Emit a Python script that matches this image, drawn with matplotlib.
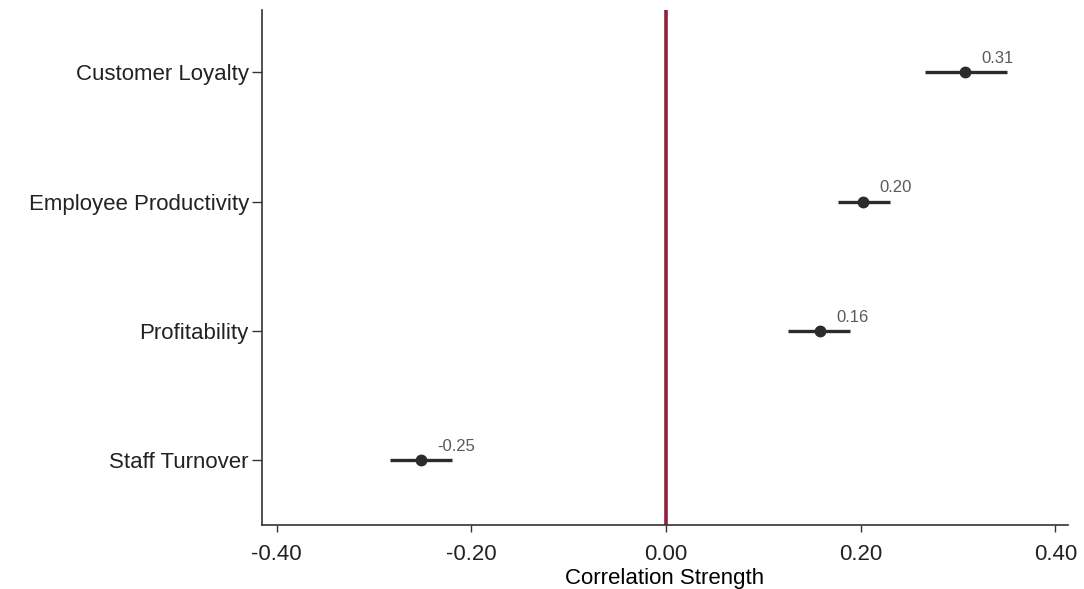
import matplotlib
matplotlib.use("Agg")
import matplotlib.pyplot as plt

plt.rcParams['font.family'] = ['Liberation Sans', 'DejaVu Sans']

categories = ["Customer Loyalty", "Employee Productivity", "Profitability", "Staff Turnover"]
estimates = [0.307, 0.202, 0.158, -0.252]
ci_low = [0.266, 0.177, 0.125, -0.284]
ci_high = [0.350, 0.230, 0.189, -0.220]
value_labels = ["0.31", "0.20", "0.16", "-0.25"]
xticks = [-0.40, -0.20, 0.00, 0.20, 0.40]

fig = plt.figure(figsize=(10.84, 5.89), dpi=100)
ax = fig.add_axes([0.2417, 0.1087, 0.7435, 0.8743])

n = len(categories)
ypos = [n - 1 - i for i in range(n)]

ax.axvline(0, color='#931F3A', lw=2.6, zorder=1)

for y, est, lo, hi, lab in zip(ypos, estimates, ci_low, ci_high, value_labels):
    ax.plot([lo, hi], [y, y], color='#2b2b2b', lw=2.4, solid_capstyle='butt', zorder=2)
    ax.plot([est], [y], 'o', color='#2b2b2b', ms=7.5, zorder=3)
    ax.annotate(lab, (est, y), xytext=(12, 4.5), textcoords='offset points',
                fontsize=12, color='#5a5a5a', ha='left', va='bottom')

ax.set_xlim(-0.415, 0.413)
ax.set_ylim(-0.5, 3.48)
ax.set_xticks(xticks)
ax.set_xticklabels([f"{t:.2f}" for t in xticks], fontsize=16)
ax.set_yticks(ypos)
ax.set_yticklabels(categories, fontsize=16)
ax.set_xlabel("Correlation Strength", fontsize=16, labelpad=2)

for s in ['top', 'right']:
    ax.spines[s].set_visible(False)
for s in ['left', 'bottom']:
    ax.spines[s].set_color('#333333')
    ax.spines[s].set_linewidth(1.2)
ax.tick_params(axis='both', direction='out', width=1, color='#333333', labelcolor='#222222')
ax.tick_params(axis='x', length=5, pad=8.5)
ax.tick_params(axis='y', length=7, pad=2.5)

fig.savefig("out.png", dpi=100, facecolor='white')
